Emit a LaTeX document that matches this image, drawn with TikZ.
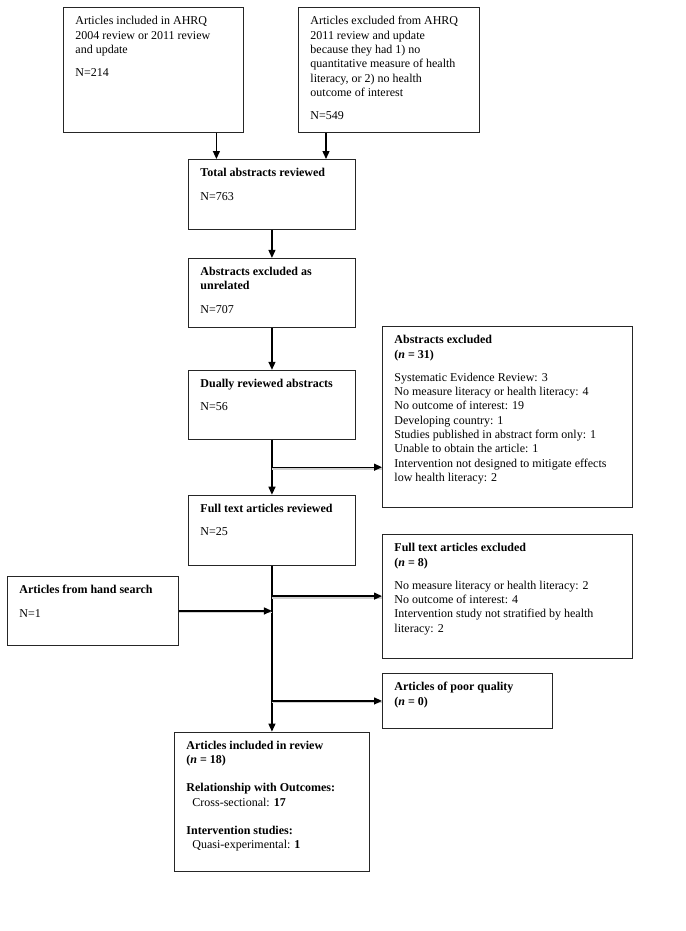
\documentclass[tikz,border=0pt]{standalone}
\usepackage{fontspec}
\setmainfont{Liberation Serif}
\usetikzlibrary{arrows.meta, positioning, calc}

% fixed-height text block, text set from the top
\newcommand{\flowtext}[3]{\parbox[c][#1][t]{#2}{\raggedright #3}}

\begin{document}
\begin{tikzpicture}[
    x=1pt, y=-1pt,
    every node/.style={font=\fontsize{12}{14.3}\selectfont},
    box/.style={
        draw=black!85,
        line width=0.9pt,
        anchor=north west,
        align=left,
        inner xsep=12pt,
        inner ysep=9pt
    },
    arrow/.style={-{Triangle[length=8pt, width=7pt]}, line width=1.3pt},
    shadowed/.style={preaction={draw=black!18, -, line width=1.8pt, transform canvas={yshift=-1.5pt}}}
]
\useasboundingbox (0,0) rectangle (685,931);

\node[box] (ahrq) at (63,7) {\flowtext{107pt}{156pt}{%
Articles included in AHRQ\\
2004 review or 2011 review\\
and update\\[9pt]
N=214}};

\node[box] (excl) at (298,7) {\flowtext{107pt}{157pt}{%
Articles excluded from AHRQ\\
2011 review and update\\
because they had 1) no\\
quantitative measure of health\\
literacy, or 2) no health\\
outcome of interest\\[9pt]
N=549}};

\node[box] (total) at (188,159) {\flowtext{52pt}{143pt}{%
\textbf{Total abstracts reviewed}\\[9pt]
N=763}};

\node[box, below=28pt of total] (unrelated) {\flowtext{51pt}{143pt}{%
\textbf{Abstracts excluded as}\\
\textbf{unrelated}\\[9pt]
N=707}};

\node[box, below=42pt of unrelated] (dually) {\flowtext{51pt}{143pt}{%
\textbf{Dually reviewed abstracts}\\[9pt]
N=56}};

\node[box] (absexcl) at (382,326) {\flowtext{163pt}{226pt}{%
\textbf{Abstracts excluded}\\
\textbf{(\textit{n} = 31)}\\[9pt]
Systematic Evidence Review: 3\\
No measure literacy or health literacy: 4\\
No outcome of interest: 19\\
Developing country: 1\\
Studies published in abstract form only: 1\\
Unable to obtain the article: 1\\
Intervention not designed to mitigate effects\\
low health literacy: 2}};

\node[box, below=55pt of dually] (fullrev) {\flowtext{52pt}{143pt}{%
\textbf{Full text articles reviewed}\\[9pt]
N=25}};

\node[box] (fullexcl) at (382,534) {\flowtext{106pt}{226pt}{%
\textbf{Full text articles excluded}\\
\textbf{(\textit{n} = 8)}\\[9pt]
No measure literacy or health literacy: 2\\
No outcome of interest: 4\\
Intervention study not stratified by health\\
literacy: 2}};

\node[box] (hand) at (7,576) {\flowtext{51pt}{147pt}{%
\textbf{Articles from hand search}\\[9pt]
N=1}};

\node[box] (poor) at (382,673) {\flowtext{37pt}{146pt}{%
\textbf{Articles of poor quality}\\
\textbf{(\textit{n} = 0)}}};

\node[box, below=166pt of fullrev] (included) {\flowtext{121pt}{171pt}{%
\textbf{Articles included in review}\\
\textbf{(\textit{n} = 18)}\\[14pt]
\textbf{Relationship with Outcomes:}\\
\hspace*{6pt}Cross-sectional: \textbf{17}\\[14pt]
\textbf{Intervention studies:}\\
\hspace*{6pt}Quasi-experimental: \textbf{1}}};

% main flow
\draw[arrow] (ahrq.-45) -- (ahrq.-45 |- total.north);
\draw[arrow] (excl.-135) -- (excl.-135 |- total.north);
\draw[arrow] (total) -- (unrelated);
\draw[arrow] (unrelated) -- (dually);
\draw[arrow] (dually) -- (fullrev);
\draw[arrow] (fullrev.south) -- (fullrev.south |- included.north);

% side branches
\coordinate (split) at ($(dually.south)+(0,27.5)$);
\coordinate (split2) at ($(fullrev.south)+(0,30.5)$);
\draw[arrow, shadowed] (split) -- (split -| absexcl.west);
\draw[arrow, shadowed] (split2) -- (split2 -| fullexcl.west);
\draw[arrow, shadowed] (hand.east) -- (hand.east -| fullrev.south);
\draw[arrow, shadowed] (fullrev.south |- poor.west) -- (poor.west);

\end{tikzpicture}
\end{document}
